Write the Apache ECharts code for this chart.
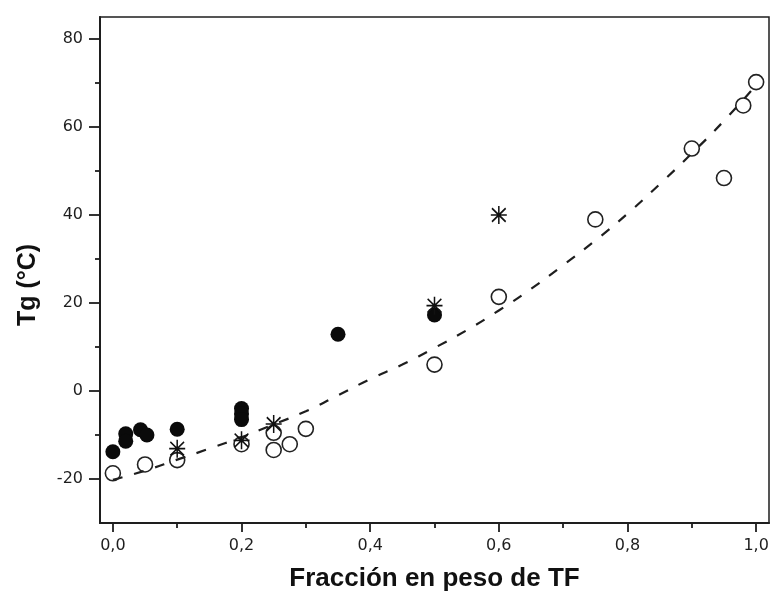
<!DOCTYPE html>
<html>
<head>
<meta charset="utf-8">
<title>Tg vs fracción en peso de TF</title>
<script src="https://cdn.jsdelivr.net/npm/echarts@6/dist/echarts.min.js"></script>
<style>
  html, body { margin: 0; padding: 0; background: #fff; }
  #chart { width: 773px; height: 597px; }
</style>
</head>
<body>
<div id="chart"></div>
<script>
// Measured Tg values (°C) against TF weight fraction, one array per sample family
const filledPoints = [
  [0.0, -13.8], [0.02, -9.7], [0.02, -11.4], [0.043, -8.8], [0.053, -10.0],
  [0.1, -8.7], [0.2, -4.0], [0.2, -5.2], [0.2, -6.5], [0.35, 12.9], [0.5, 17.3]
];
const openPoints = [
  [0.0, -18.7], [0.05, -16.7], [0.1, -15.7], [0.2, -12.1], [0.25, -9.5],
  [0.25, -13.4], [0.275, -12.1], [0.3, -8.6], [0.5, 6.0], [0.6, 21.4],
  [0.75, 39.0], [0.9, 55.1], [0.95, 48.4], [0.98, 64.9], [1.0, 70.2]
];
const starPoints = [
  [0.1, -13.1], [0.2, -11.2], [0.25, -7.5], [0.5, 19.4], [0.6, 40.0]
];
// Trend curve through the open-circle data
const fitX = [0, 0.05, 0.1, 0.15, 0.2, 0.25, 0.3, 0.35, 0.4, 0.45, 0.5,
              0.55, 0.6, 0.65, 0.7, 0.75, 0.8, 0.85, 0.9, 0.95, 1.0];
const fitY = [-20.2, -18.1, -15.6, -13.1, -10.5, -7.6, -4.6, -1.0, 2.7, 6.0, 9.8,
              13.8, 18.3, 23.2, 28.6, 34.2, 40.3, 47.0, 54.0, 61.4, 69.5];

// Axis ticks
const xMajorTicks = [0, 0.2, 0.4, 0.6, 0.8, 1.0];
const xMinorTicks = [0.1, 0.3, 0.5, 0.7, 0.9];
const yMajorTicks = [-20, 0, 20, 40, 60, 80];
const yMinorTicks = [-10, 10, 30, 50, 70];

const ink = '#1e1e1e';
const labelFont = { fontFamily: 'DejaVu Sans', fontSize: 16, color: '#1e1e1e' };
const starPath = 'path://M0,-8L0,8M-7,0L7,0M-6,-6L6,6M-6,6L6,-6';

const chart = echarts.init(document.getElementById('chart'), null, { renderer: 'canvas' });

const xMin = -0.02, xMax = 1.02, yMin = -30, yMax = 85;

chart.setOption({
  animation: false,
  backgroundColor: '#fff',
  grid: {
    left: 100, right: 4, top: 17, bottom: 73,
    show: true, borderColor: ink, borderWidth: 1.5, backgroundColor: 'transparent'
  },
  xAxis: [
    {
      type: 'value', min: xMin, max: xMax, position: 'bottom',
      name: 'Fracción en peso de TF', nameLocation: 'middle', nameGap: 56,
      nameTextStyle: { fontFamily: 'Liberation Sans', fontWeight: 'bold', fontSize: 26, color: '#111', verticalAlign: 'middle' },
      axisLine: { onZero: false, lineStyle: { color: ink, width: 2 } },
      axisTick: { show: true, inside: false, length: 9, customValues: xMajorTicks, lineStyle: { color: ink, width: 1.8 } },
      axisLabel: Object.assign({ margin: 15, customValues: xMajorTicks,
        formatter: v => v.toFixed(1).replace('.', ',') }, labelFont),
      splitLine: { show: false }
    },
    {
      type: 'value', min: xMin, max: xMax, position: 'bottom',
      axisLine: { show: false, onZero: false },
      axisTick: { show: true, inside: false, length: 5, customValues: xMinorTicks, lineStyle: { color: ink, width: 1.8 } },
      axisLabel: { show: false },
      splitLine: { show: false }
    }
  ],
  yAxis: [
    {
      type: 'value', min: yMin, max: yMax, position: 'left',
      axisLine: { onZero: false, lineStyle: { color: ink, width: 2 } },
      axisTick: { show: true, inside: false, length: 11, customValues: yMajorTicks, lineStyle: { color: ink, width: 1.8 } },
      axisLabel: Object.assign({ margin: 17, customValues: yMajorTicks }, labelFont),
      splitLine: { show: false }
    },
    {
      type: 'value', min: yMin, max: yMax, position: 'left',
      axisLine: { show: false, onZero: false },
      axisTick: { show: true, inside: false, length: 5, customValues: yMinorTicks, lineStyle: { color: ink, width: 1.8 } },
      axisLabel: { show: false },
      splitLine: { show: false }
    }
  ],
  graphic: [
    {
      type: 'text', x: 28, y: 285, rotation: Math.PI / 2,
      style: {
        text: 'Tg (°C)', fontFamily: 'Liberation Sans', fontWeight: 'bold', fontSize: 25,
        fill: '#111', textAlign: 'center', textVerticalAlign: 'middle'
      }
    }
  ],
  series: [
    {
      name: 'ajuste', type: 'line', xAxisIndex: 0, yAxisIndex: 0,
      data: fitX.map((x, i) => [x, fitY[i]]),
      smooth: true, showSymbol: false, symbol: 'none', z: 1,
      lineStyle: { color: ink, width: 2.2, type: [10, 12] }
    },
    {
      name: 'abiertos', type: 'scatter', xAxisIndex: 0, yAxisIndex: 0,
      data: openPoints, symbol: 'circle', symbolSize: 15, z: 3,
      itemStyle: { color: 'transparent', borderColor: '#222', borderWidth: 1.6, opacity: 1 }
    },
    {
      name: 'rellenos', type: 'scatter', xAxisIndex: 0, yAxisIndex: 0,
      data: filledPoints, symbol: 'circle', symbolSize: 15, z: 4,
      itemStyle: { color: '#0a0a0a', borderWidth: 0, opacity: 1 }
    },
    {
      name: 'asteriscos', type: 'scatter', xAxisIndex: 0, yAxisIndex: 0,
      data: starPoints, symbol: starPath, symbolSize: [16, 18], z: 5,
      itemStyle: { color: 'transparent', borderColor: '#111', borderWidth: 1.6, opacity: 1 }
    }
  ]
});
</script>
</body>
</html>
